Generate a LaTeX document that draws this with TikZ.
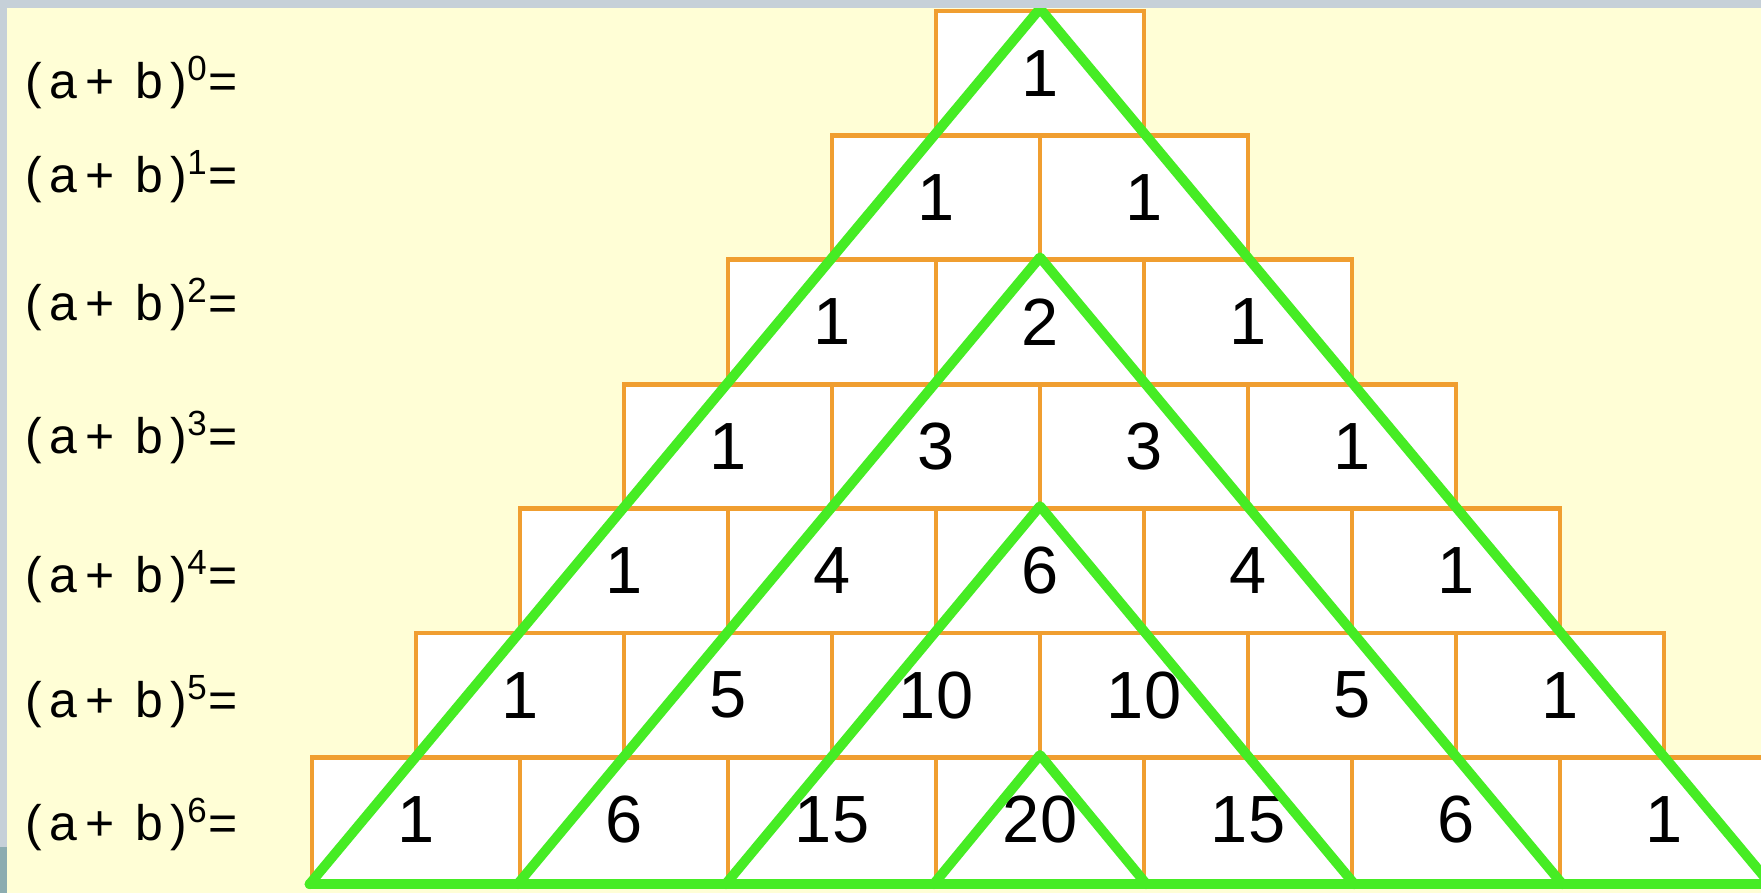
\documentclass[tikz,border=0pt]{standalone}
\usepackage{fontspec}
\setmainfont{Liberation Sans}
\newfontfamily\powfont[LetterSpace=15]{Liberation Sans}
\usepackage{xcolor}
\usepackage{tikz}
\definecolor{bgyellow}{RGB}{255,254,214}
\definecolor{cellorange}{RGB}{240,158,48}
\definecolor{limegreen}{RGB}{70,236,36}
\definecolor{framegrey}{RGB}{198,208,216}
\definecolor{frameteal}{RGB}{140,172,176}

\begin{document}
\begin{tikzpicture}[
    cell/.style={draw=cellorange,line width=1.4pt,fill=white,minimum width=2.08cm,
      minimum height=1.244cm,inner sep=0pt,font=\fontsize{19}{22}\selectfont},
    powlabel/.style={anchor=base west,inner sep=0pt,font=\powfont\fontsize{14.2}{17}\selectfont},
    greenline/.style={limegreen,line width=2.8pt,line join=round,line cap=round}]
  \useasboundingbox (0,0) rectangle (17.61,8.93);
  \clip (0,0) rectangle (17.61,8.93);
  \fill[bgyellow] (0,0) rectangle (17.61,8.93);
  % pascal rows, one box per coefficient
  \foreach \r/\vals in {0/{1},1/{1,1},2/{1,2,1},3/{1,3,3,1},4/{1,4,6,4,1},
      5/{1,5,10,10,5,1},6/{1,6,15,20,15,6,1}}
    \foreach \v [count=\j from 0] in \vals
      \node[cell] (c\r-\j) at ({10.40+(\j-\r/2)*2.08},{8.82-(\r+0.5)*1.244}) {\v};
  % left column
  \foreach \r/\y in {0/7.94,1/7.00,2/5.72,3/4.39,4/3.00,5/1.75,6/0.52}
    \node[powlabel] (lab\r) at (0.25,\y) {(a+ b)\textsuperscript{\r}=};
  % nested triangles
  \foreach \t in {0,...,3} {
    \pgfmathtruncatemacro{\top}{2*\t}
    \pgfmathtruncatemacro{\rgt}{6-\t}
    \draw[greenline] (c6-\t.south west) -- (c\top-\t.north) -- (c6-\rgt.south east);
  }
  \draw[greenline] (c6-0.south west) -- (c6-6.south east);
  % frame of the screenshot
  \fill[framegrey] (0,8.85) rectangle (17.61,8.93);
  \fill[framegrey] (0,0) rectangle (0.07,8.93);
  \fill[frameteal] (0,0) rectangle (0.07,0.46);
\end{tikzpicture}
\end{document}
